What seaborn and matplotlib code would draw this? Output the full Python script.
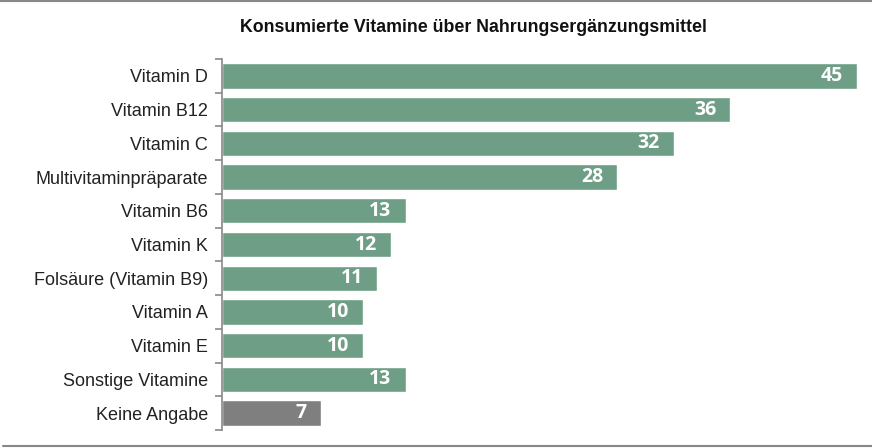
import matplotlib
matplotlib.use("Agg")
import matplotlib.pyplot as plt
import seaborn as sns
import pandas as pd
from matplotlib.lines import Line2D

categories = ["Vitamin D", "Vitamin B12", "Vitamin C", "Multivitaminpräparate",
              "Vitamin B6", "Vitamin K", "Folsäure (Vitamin B9)", "Vitamin A",
              "Vitamin E", "Sonstige Vitamine", "Keine Angabe"]
values = [45, 36, 32, 28, 13, 12, 11, 10, 10, 13, 7]
colors = ["#6e9e85"] * 10 + ["#7f7f7f"]
title = "Konsumierte Vitamine über Nahrungsergänzungsmittel"

sns.set_theme(style="white")
plt.rcParams['font.family'] = ['Liberation Sans', 'DejaVu Sans']

df = pd.DataFrame({"cat": categories, "val": values})

W, H = 872, 448
fig = plt.figure(figsize=(W / 100, H / 100), dpi=100)
ax = fig.add_axes([222 / W, 1 - 430 / H, 650 / W, (430 - 59) / H])

sns.barplot(data=df, y="cat", x="val", hue="cat", palette=colors, legend=False,
            width=0.75, ax=ax, saturation=1, orient="h")

ax.set_xlim(0, 650 / 14.12)
ax.set_ylim(len(categories) - 0.5, -0.5)
ax.set_xlabel("")
ax.set_ylabel("")
ax.set_xticks([])
for s in ["top", "right", "bottom"]:
    ax.spines[s].set_visible(False)
ax.spines["left"].set_color("#888888")
ax.spines["left"].set_linewidth(1.2)

ax.set_yticks(range(len(categories)))
ax.set_yticklabels(categories, fontsize=13, color="#222222")
ax.tick_params(axis="y", which="major", length=0, pad=10)
ax.set_yticks([i - 0.5 for i in range(len(categories) + 1)], minor=True)
ax.tick_params(axis="y", which="minor", length=5, width=1.2, color="#888888", left=True)

for i, v in enumerate(values):
    ax.text(v - 1.0, i, str(v), ha="right", va="center", color="white",
            fontsize=14, fontweight="bold", family=['Open Sans', 'DejaVu Sans'])

fig.text(473 / W, 1 - 27 / H, title, ha="center", va="center", fontsize=12.8,
         fontweight="bold", color="#111111",
         family=['Liberation Sans Narrow', 'Liberation Sans', 'DejaVu Sans'])

fig.add_artist(Line2D([0, 1], [1 - 1.5 / H, 1 - 1.5 / H], transform=fig.transFigure,
                      color="#888888", lw=1.5))
fig.add_artist(Line2D([3 / W, 1], [1 - 446 / H, 1 - 446 / H], transform=fig.transFigure,
                      color="#888888", lw=1.5))

fig.savefig("out.png", dpi=100)
